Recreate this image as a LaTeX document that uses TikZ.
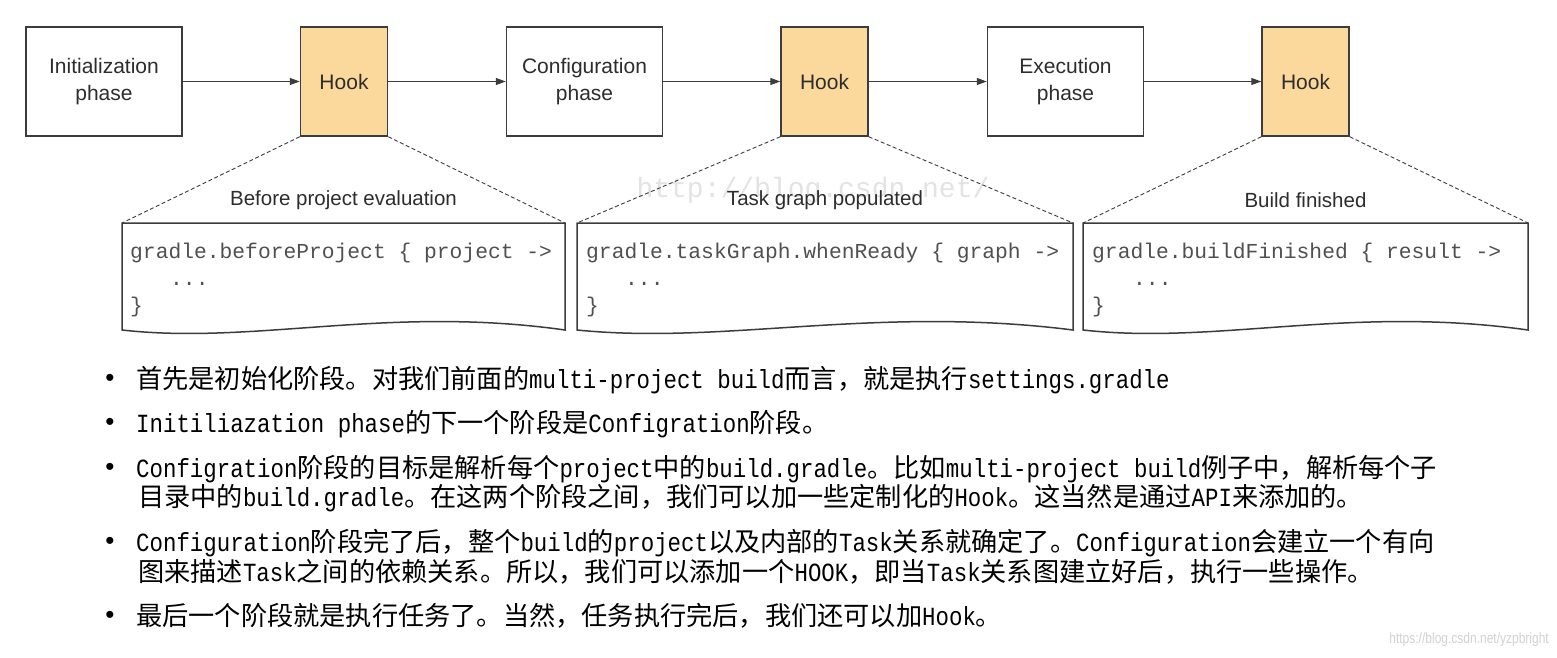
\documentclass[tikz,border=0pt]{standalone}
\usepackage{fontspec}
\setmainfont{Liberation Sans}
\newfontfamily\cjk{Noto Sans CJK SC}
\newfontfamily\lt[FakeStretch=0.855]{Liberation Mono}
\newfontfamily\codefont{Liberation Mono}
\newfontfamily\wmfont[FakeStretch=0.8]{Liberation Sans}
\usetikzlibrary{arrows.meta}
\definecolor{hookfill}{RGB}{251,216,155}
\definecolor{edgegray}{RGB}{60,60,60}
\definecolor{codegray}{RGB}{80,80,80}
\definecolor{labelgray}{RGB}{45,45,45}
\newcommand{\calloutshape}[3]{% left, right, name
  \coordinate (#3tl) at (#1,223);
  \coordinate (#3tr) at (#2,223);
  \draw[callout] (#3tl) -- (#3tr) -- (#2,330)
    .. controls ({#1+0.6*(#2-#1)},305) and ({#1+0.3*(#2-#1)},345) .. (#1,330) -- cycle;
}
\begin{document}
\begin{tikzpicture}[x=1pt,y=-1pt,
  phase/.style={draw=edgegray, line width=1.5pt, fill=white, minimum width=156pt,
    minimum height=109pt, align=center, font=\fontsize{21}{27}\selectfont,
    text=labelgray, inner sep=0pt},
  hook/.style={draw=edgegray, line width=1.5pt, fill=hookfill, minimum width=87pt,
    minimum height=109pt, font=\fontsize{21}{27}\selectfont, text=labelgray, inner sep=0pt},
  flow/.style={draw=edgegray, line width=1.1pt, -{Triangle[length=10pt,width=7pt]}},
  zoomline/.style={draw=edgegray, line width=0.9pt, dash pattern=on 4pt off 2.5pt},
  callout/.style={draw=edgegray, line width=1.5pt, fill=white},
  callhead/.style={font=\fontsize{20.5}{24}\selectfont, text=labelgray, inner sep=0pt},
  code/.style={font=\fontsize{21.3}{27}\selectfont\codefont, text=codegray, inner sep=0pt, anchor=base west},
  body/.style={font=\fontsize{26.2}{30}\selectfont\cjk, text=black, inner sep=0pt, anchor=base west},
  bul/.style={font=\fontsize{26}{28}\selectfont, text=black, inner sep=0pt},
  wm/.style={text=gray!22, inner sep=0pt}
]
\useasboundingbox (0,0) rectangle (1557,658);
\fill[white] (0,0) rectangle (1557,658);

% watermark behind
\node[wm, font=\fontsize{28}{30}\selectfont\codefont] (wma) at (813,190) {http://blog.csdn.net/};

% top flow
\node[phase] (init) at (104,81.5) {Initialization\\phase};
\node[hook]  (h1)   at (344,81.5) {Hook};
\node[phase] (conf) at (584.5,81.5) {Configuration\\phase};
\node[hook]  (h2)   at (824.5,81.5) {Hook};
\node[phase] (exec) at (1065.5,81.5) {Execution\\phase};
\node[hook]  (h3)   at (1305.5,81.5) {Hook};

\draw[flow] (init) -- (h1);
\draw[flow] (h1) -- (conf);
\draw[flow] (conf) -- (h2);
\draw[flow] (h2) -- (exec);
\draw[flow] (exec) -- (h3);

% callouts
\calloutshape{122}{565}{ba}
\calloutshape{577}{1073}{bb}
\calloutshape{1083}{1528}{bc}

\draw[zoomline] (h1.south west) -- (batl);
\draw[zoomline] (h1.south east) -- (batr);
\draw[zoomline] (h2.south west) -- (bbtl);
\draw[zoomline] (h2.south east) -- (bbtr);
\draw[zoomline] (h3.south west) -- (bctl);
\draw[zoomline] (h3.south east) -- (bctr);

\node[callhead] (ta) at (343.5,200) {Before project evaluation};
\node[callhead] (tb) at (825,200) {Task graph populated};
\node[callhead] (tc) at (1305.5,200) {Build finished};

\node[code] (ca1) at (130,258) {gradle.beforeProject \{ project ->};
\node[code] (ca2) at (170,285) {...};
\node[code] (ca3) at (130,312) {\}};
\node[code] (cb1) at (586,258) {gradle.taskGraph.whenReady \{ graph ->};
\node[code] (cb2) at (625,285) {...};
\node[code] (cb3) at (586,312) {\}};
\node[code] (cc1) at (1092,258) {gradle.buildFinished \{ result ->};
\node[code] (cc2) at (1133,285) {...};
\node[code] (cc3) at (1092,312) {\}};

% bullets
\node[bul] (d1) at (110,380) {•};
\node[bul] (d2) at (110,424) {•};
\node[bul] (d3) at (110,469) {•};
\node[bul] (d4) at (110,543) {•};
\node[bul] (d5) at (110,617) {•};

\node[body] (p1)  at (136,388) {首先是初始化阶段。对我们前面的{\lt multi-project build}而言，就是执行{\lt settings.gradle}};
\node[body] (p2)  at (136,432) {{\lt Initiliazation phase}的下一个阶段是{\lt Configration}阶段。};
\node[body] (p3a) at (136,477) {{\lt Configration}阶段的目标是解析每个{\lt project}中的{\lt build.gradle}。比如{\lt multi-project build}例子中，解析每个子};
\node[body] (p3b) at (138,506) {目录中的{\lt build.gradle}。在这两个阶段之间，我们可以加一些定制化的{\lt Hook}。这当然是通过{\lt API}来添加的。};
\node[body] (p4a) at (136,551) {{\lt Configuration}阶段完了后，整个{\lt build}的{\lt project}以及内部的{\lt Task}关系就确定了。{\lt Configuration}会建立一个有向};
\node[body] (p4b) at (138,581) {图来描述{\lt Task}之间的依赖关系。所以，我们可以添加一个{\lt HOOK}，即当{\lt Task}关系图建立好后，执行一些操作。};
\node[body] (p5)  at (136,625) {最后一个阶段就是执行任务了。当然，任务执行完后，我们还可以加{\lt Hook}。};

\node[wm, text=gray!35, anchor=base east, font=\fontsize{15}{17}\selectfont\wmfont] (wmb) at (1549,643) {https://blog.csdn.net/yzpbright};
\end{tikzpicture}
\end{document}
